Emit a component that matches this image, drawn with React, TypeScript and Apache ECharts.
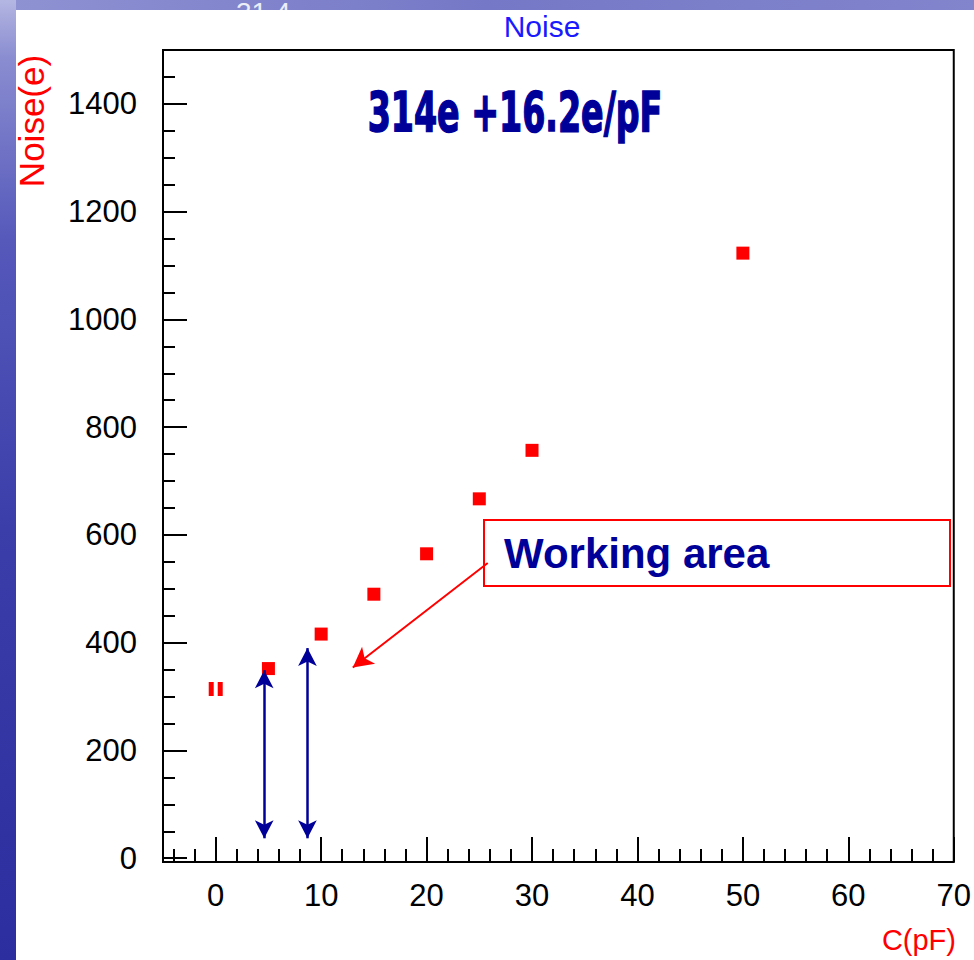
import React, { useEffect, useRef } from "react";
import * as echarts from "echarts";

// ---- data ----
const capacitance = [0, 5, 10, 15, 20, 25, 30, 50];
const noise = [314, 352, 416, 490, 565, 667, 757, 1123];

const xTicks = [0, 10, 20, 30, 40, 50, 60, 70];
const xMinorTicks = [-4, -2, 2, 4, 6, 8, 12, 14, 16, 18, 22, 24, 26, 28, 32, 34, 36, 38, 42, 44, 46, 48, 52, 54, 56, 58, 62, 64, 66, 68];
const yTicks = [0, 200, 400, 600, 800, 1000, 1200, 1400];
const yMinorTicks = [50, 100, 150, 250, 300, 350, 450, 500, 550, 650, 700, 750, 850, 900, 950, 1050, 1100, 1150, 1250, 1300, 1350, 1450];

// double-headed arrows (x position, top value, bottom value)
const rangeArrowX = [4.6, 8.7];
const rangeArrowTop = [349, 390];
const rangeArrowBottom = [37, 37];

// pointer arrow from the "Working area" box
const pointerFrom = [25.8, 548];
const pointerTo = [13.0, 354];

const titleText = "Noise";
const fitText = "314e +16.2e/pF";
const boxText = "Working area";
const yName = "Noise(e)";
const xName = "C(pF)";

const splitMarker = "path://M0,0 H5 V14 H0 Z M9,0 H14 V14 H9 Z";

export default function App() {
  const ref = useRef<HTMLDivElement>(null);

  useEffect(() => {
    if (!ref.current) return;
    const chart = echarts.init(ref.current, null, { renderer: "svg" });

    const tickFont = { fontFamily: "Liberation Sans, Arial, sans-serif", fontSize: 31, color: "#000" };
    const plain = (v: number) => String(v);

    const markLines: any[] = rangeArrowX.map((x, i) => [
      {
        coord: [x, rangeArrowBottom[i]],
        symbol: "arrow",
        symbolSize: [14, 18],
        lineStyle: { color: "#000099", width: 2.5, type: "solid" },
        itemStyle: { color: "#000099" },
      },
      { coord: [x, rangeArrowTop[i]], symbol: "arrow", symbolSize: [14, 18] },
    ]);
    markLines.push([
      {
        coord: pointerFrom,
        symbol: "none",
        lineStyle: { color: "#ff0000", width: 2, type: "solid" },
        itemStyle: { color: "#ff0000" },
      },
      { coord: pointerTo, symbol: "arrow", symbolSize: [16, 20] },
    ]);

    const baseX = {
      type: "value",
      min: -5,
      max: 70,
      position: "bottom",
      axisLine: { show: false, onZero: false },
      splitLine: { show: false },
    };
    const baseY = {
      type: "value",
      min: -7,
      max: 1500,
      position: "left",
      axisLine: { show: false, onZero: false },
      splitLine: { show: false },
    };

    const option: any = {
      animation: false,
      backgroundColor: "transparent",
      grid: {
        left: 163,
        right: 17,
        top: 50,
        bottom: 98,
        show: true,
        borderColor: "#000",
        borderWidth: 2,
        containLabel: false,
      },
      xAxis: [
        {
          ...baseX,
          axisTick: {
            show: true,
            inside: true,
            length: 25,
            customValues: xTicks,
            lineStyle: { color: "#000", width: 2 },
          },
          axisLabel: { ...tickFont, margin: 18, customValues: xTicks, formatter: plain },
        },
        {
          ...baseX,
          axisTick: {
            show: true,
            inside: true,
            length: 13,
            customValues: xMinorTicks,
            lineStyle: { color: "#000", width: 2 },
          },
          axisLabel: { show: false },
        },
      ],
      yAxis: [
        {
          ...baseY,
          axisTick: {
            show: true,
            inside: true,
            length: 24,
            customValues: yTicks,
            lineStyle: { color: "#000", width: 2 },
          },
          axisLabel: { ...tickFont, margin: 26, customValues: yTicks, formatter: plain },
        },
        {
          ...baseY,
          axisTick: {
            show: true,
            inside: true,
            length: 12,
            customValues: yMinorTicks,
            lineStyle: { color: "#000", width: 2 },
          },
          axisLabel: { show: false },
        },
      ],
      series: [
        {
          type: "scatter",
          xAxisIndex: 0,
          yAxisIndex: 0,
          symbol: "rect",
          symbolSize: 13,
          itemStyle: { color: "#ff0000", opacity: 1 },
          data: capacitance.map((c, i) =>
            i === 0
              ? { value: [c, noise[i]], symbol: splitMarker, symbolSize: [14, 14] }
              : [c, noise[i]]
          ),
          markLine: {
            silent: true,
            animation: false,
            label: { show: false },
            emphasis: { disabled: true },
            data: markLines,
          },
        },
      ],
      graphic: [
        {
          type: "rect",
          shape: { x: 0, y: 0, width: 974, height: 10 },
          style: {
            fill: new echarts.graphic.LinearGradient(0, 0, 1, 0, [
              { offset: 0, color: "#8f92d2" },
              { offset: 0.5, color: "#7578c6" },
              { offset: 1, color: "#8285cc" },
            ]),
          },
        },
        {
          type: "text",
          x: 236,
          y: -2,
          style: { text: "31 4", fill: "#eceef8", font: "28px Liberation Sans, Arial, sans-serif" },
        },
        {
          type: "rect",
          shape: { x: 16, y: 10, width: 958, height: 30 },
          style: { fill: "#ffffff" },
        },
        {
          type: "rect",
          shape: { x: 0, y: 0, width: 16, height: 960 },
          style: {
            fill: new echarts.graphic.LinearGradient(0, 0, 0, 1, [
              { offset: 0, color: "#b4b6e2" },
              { offset: 0.06, color: "#8a8dd0" },
              { offset: 0.25, color: "#5659ba" },
              { offset: 0.55, color: "#3b3ea9" },
              { offset: 1, color: "#2c2d9f" },
            ]),
          },
        },
        {
          type: "text",
          x: 542,
          y: 26,
          style: {
            text: titleText,
            fill: "#1a1aff",
            font: "30px Liberation Sans, Arial, sans-serif",
            textAlign: "center",
            textVerticalAlign: "middle",
          },
        },
        {
          type: "text",
          x: 31,
          y: 121,
          rotation: Math.PI / 2,
          style: {
            text: yName,
            fill: "#ff0000",
            font: "35px Liberation Sans, Arial, sans-serif",
            textAlign: "center",
            textVerticalAlign: "middle",
          },
        },
        {
          type: "text",
          x: 956,
          y: 940,
          style: {
            text: xName,
            fill: "#ff0000",
            font: "29px Liberation Sans, Arial, sans-serif",
            textAlign: "right",
            textVerticalAlign: "middle",
          },
        },
        {
          type: "text",
          x: 515,
          y: 112,
          scaleX: 0.66,
          style: {
            text: fitText,
            fill: "#000099",
            stroke: "#000099",
            lineWidth: 1.5,
            font: "bold 56px 'DejaVu Sans Condensed', 'Liberation Sans Narrow', Arial, sans-serif",
            textAlign: "center",
            textVerticalAlign: "middle",
          },
        },
        {
          type: "rect",
          shape: { x: 484, y: 520, width: 466, height: 66 },
          style: { fill: "#ffffff", stroke: "#ff0000", lineWidth: 2 },
        },
        {
          type: "text",
          x: 504,
          y: 553,
          style: {
            text: boxText,
            fill: "#000099",
            font: "bold 42px Liberation Sans, Arial, sans-serif",
            textAlign: "left",
            textVerticalAlign: "middle",
          },
        },
      ],
    };

    chart.setOption(option);
    return () => chart.dispose();
  }, []);

  return (
    <div
      ref={ref}
      style={{ position: "fixed", left: 0, top: 0, width: 974, height: 960, background: "#ffffff" }}
    />
  );
}
